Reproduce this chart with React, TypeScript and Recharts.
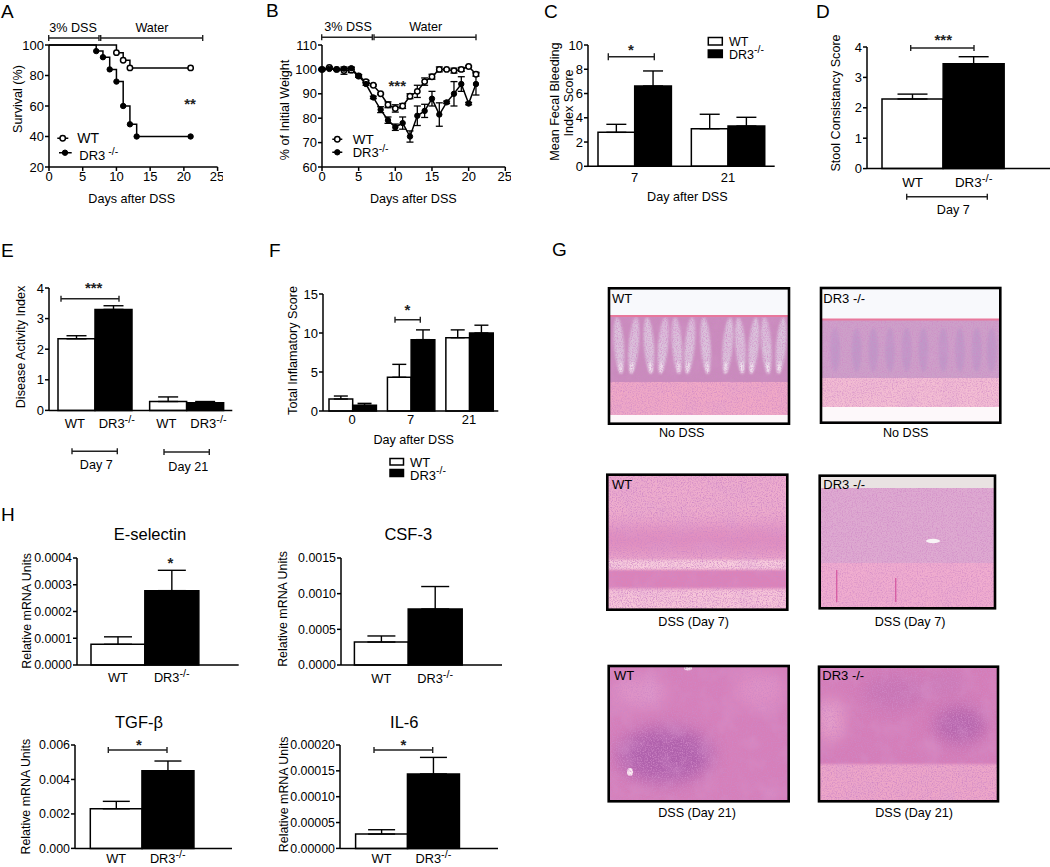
import React from "react";
import { Bar, BarChart, Cell, ErrorBar, Line, LineChart, XAxis, YAxis } from "recharts";

// A - survival
const survivalWt = [
    { day: 0, v: 100 }, { day: 10, v: 95 }, { day: 11, v: 90 }, { day: 12, v: 85 }, { day: 21, v: 85 },
];
const survivalDr3 = [
    { day: 0, v: 100 }, { day: 7, v: 96 }, { day: 8, v: 92 }, { day: 9, v: 84 }, { day: 10, v: 76 },
    { day: 11, v: 60 }, { day: 12, v: 48 }, { day: 13, v: 40 }, { day: 21, v: 40 },
];

// B - weight, one value per day
const weightDays = [0, 1, 2, 3, 4, 5, 6, 7, 8, 9, 10, 11, 12, 13, 14, 15, 16, 17, 18, 19, 20, 21];
const weightWt = [100, 100.8, 100, 99.5, 99.7, 97.3, 95, 93.5, 90, 85.5, 84, 85, 89, 91, 95, 97, 100, 100, 99.5, 100, 101.2, 98];
const weightWtErr = [0.5, 0.3, 0.3, 1.5, 1, 0.5, 0.5, 0.3, 0.3, 1.2, 1.5, 1, 1, 2.5, 1.5, 1, 1, 0.3, 1, 0.8, 0.3, 0.8];
const weightDr3 = [100, 100.2, 100, 100.3, 100.5, 97.3, 94, 88.5, 83.5, 79.2, 76.3, 78, 72.5, 81, 83, 88, 81.5, 86.5, 90, 94, 86, 94];
const weightDr3Err = [0.3, 0.2, 0.3, 0.3, 0.5, 0.5, 0.5, 0.5, 1.2, 1.3, 1.3, 2.5, 2.3, 4, 2.7, 3, 4.8, 0.5, 5, 3, 0.5, 4.5];

// grouped bars: C, E, F
const bleedingCats = ["7", "21"];
const bleedingWt = [2.8, 3.1];
const bleedingWtErr = [0.66, 1.19];
const bleedingDr3 = [6.62, 3.32];
const bleedingDr3Err = [1.24, 0.72];

const activityCats = ["Day 7", "Day 21"];
const activityWt = [2.34, 0.29];
const activityWtErr = [0.1, 0.15];
const activityDr3 = [3.3, 0.25];
const activityDr3Err = [0.12, 0.04];

const inflamCats = ["0", "7", "21"];
const inflamWt = [1.54, 4.32, 9.4];
const inflamWtErr = [0.38, 1.66, 1.0];
const inflamDr3 = [0.73, 9.15, 10.0];
const inflamDr3Err = [0.25, 1.25, 1.0];

// two bar panels: D, H
const genotypes = ["WT", "DR3"];
const stoolVals = [2.29, 3.45];
const stoolErr = [0.16, 0.23];
const eselVals = [0.0000773, 0.000278];
const eselErr = [0.000028, 0.000076];
const csfVals = [0.000322, 0.000785];
const csfErr = [0.000085, 0.000315];
const tgfVals = [0.0023, 0.00451];
const tgfErr = [0.00043, 0.00056];
const il6Vals = [0.0000277, 0.000144];
const il6Err = [0.0000084, 0.000032];

const FONT = "'Liberation Sans', Arial, sans-serif";
const AXIS = { stroke: "#000", strokeWidth: 1.5 };
const TICK = { fontSize: 13, fill: "#000", fontFamily: FONT };
const YW = 60;
const XH = 36;

function toRows(days: number[], vals: number[], errs: number[]) {
    return days.map((day, i) => ({ day, v: vals[i], err: [errs[i], errs[i]] }));
}

function groupRows(cats: string[], wt: number[], wtErr: number[], dr3: number[], dr3Err: number[]) {
    return cats.map((cat, i) => ({
        cat,
        wt: wt[i],
        wtErr: [0, wtErr[i]],
        dr3: dr3[i],
        dr3Err: [0, dr3Err[i]],
    }));
}

function pairRows(vals: number[], errs: number[]) {
    return genotypes.map((cat, i) => ({ cat, v: vals[i], err: [0, errs[i]] }));
}

// position a chart so its plot area lands on x0..x1 / yt..yb of the page
function place(x0: number, x1: number, yt: number, yb: number) {
    return {
        style: { position: "absolute" as const, left: x0 - YW, top: yt - 12 },
        width: YW + (x1 - x0) + 6,
        height: 12 + (yb - yt) + XH,
        margin: { top: 12, right: 6, left: 0, bottom: 0 },
    };
}

function GenoTick({ x, y, payload, fs = 12.8, dy = 9.5 }: any) {
    const isKo = payload.value === "DR3";
    return (
        <text x={x} y={y + dy} textAnchor="middle" fontSize={fs} fontFamily={FONT} fill="#000">
            <tspan>{payload.value}</tspan>
            {isKo && <tspan dy={-5} fontSize={fs - 2}>-/-</tspan>}
        </text>
    );
}

// group tick that prints WT and DR3-/- under each pair of bars
function PairTick({ x, y, dy = 9.5 }: any) {
    return (
        <g>
            <text x={x - 20} y={y + dy} textAnchor="middle" fontSize={13} fontFamily={FONT}>WT</text>
            <text x={x + 22} y={y + dy} textAnchor="middle" fontSize={13} fontFamily={FONT}>
                <tspan>DR3</tspan>
                <tspan dy={-5} fontSize={11}>-/-</tspan>
            </text>
        </g>
    );
}

function OpenDot({ cx, cy, payload }: any) {
    if (payload.day === 0) return <g key="skip" />;
    return <circle key={payload.day} cx={cx} cy={cy} r={2.7} fill="#fff" stroke="#000" strokeWidth={1.5} />;
}

function OpenDotAll({ cx, cy, payload }: any) {
    return <circle key={payload.day} cx={cx} cy={cy} r={2.7} fill="#fff" stroke="#000" strokeWidth={1.5} />;
}

function BlackDot({ cx, cy, payload }: any) {
    if (payload.day === 0) return <g key="skip" />;
    return <circle key={payload.day} cx={cx} cy={cy} r={2.7} fill="#000" stroke="#000" />;
}

function BlackDotAll({ cx, cy, payload }: any) {
    return <circle key={payload.day} cx={cx} cy={cy} r={2.7} fill="#000" stroke="#000" />;
}

const dayTicks = [0, 5, 10, 15, 20, 25];

function SurvivalChart() {
    return (
        <LineChart {...place(48.7, 217.3, 44.7, 166.7)}>
            <XAxis dataKey="day" type="number" domain={[0, 25]} ticks={dayTicks} height={XH} tick={TICK} axisLine={AXIS} tickLine={AXIS} tickSize={4} tickMargin={1} />
            <YAxis width={YW} type="number" domain={[20, 100]} ticks={[20, 40, 60, 80, 100]} tick={TICK} axisLine={AXIS} tickLine={AXIS} tickSize={4} tickMargin={1} />
            <Line data={survivalWt} dataKey="v" type="stepAfter" stroke="#000" strokeWidth={1.5} dot={<OpenDot />} isAnimationActive={false} />
            <Line data={survivalDr3} dataKey="v" type="stepAfter" stroke="#000" strokeWidth={1.5} dot={<BlackDot />} isAnimationActive={false} />
        </LineChart>
    );
}

function WeightChart() {
    return (
        <LineChart {...place(321.7, 505, 44.7, 166.7)}>
            <XAxis dataKey="day" type="number" domain={[0, 25]} ticks={dayTicks} height={XH} tick={TICK} axisLine={AXIS} tickLine={AXIS} tickSize={4} tickMargin={1} />
            <YAxis width={YW} type="number" domain={[60, 110]} ticks={[60, 70, 80, 90, 100, 110]} tick={TICK} axisLine={AXIS} tickLine={AXIS} tickSize={4} tickMargin={1} />
            <Line data={toRows(weightDays, weightWt, weightWtErr)} dataKey="v" stroke="#000" strokeWidth={1.5} dot={<OpenDotAll />} isAnimationActive={false}>
                <ErrorBar dataKey="err" direction="y" width={3.5} stroke="#000" strokeWidth={1.3} isAnimationActive={false} />
            </Line>
            <Line data={toRows(weightDays, weightDr3, weightDr3Err)} dataKey="v" stroke="#000" strokeWidth={1.5} dot={<BlackDotAll />} isAnimationActive={false}>
                <ErrorBar dataKey="err" direction="y" width={3.5} stroke="#000" strokeWidth={1.3} isAnimationActive={false} />
            </Line>
        </LineChart>
    );
}

function CatTick({ x, y, payload, dy }: any) {
    return <text x={x} y={y + dy} textAnchor="middle" fontSize={13} fontFamily={FONT} fill="#000">{payload.value}</text>;
}

function GroupChart({ box, rows, domain, ticks, barSize, capW, pairTick, tickDy = 8 }: any) {
    return (
        <BarChart {...place(box[0], box[1], box[2], box[3])} data={rows} barGap={0} barSize={barSize}>
            <XAxis
                dataKey="cat"
                height={XH}
                axisLine={AXIS}
                tickLine={false}
                interval={0}
                tick={pairTick ? <PairTick dy={tickDy} /> : <CatTick dy={tickDy} />}
            />
            <YAxis width={YW} type="number" domain={domain} ticks={ticks} interval={0} tick={TICK} axisLine={AXIS} tickLine={AXIS} tickSize={4} tickMargin={1} />
            <Bar dataKey="wt" fill="#fff" stroke="#000" strokeWidth={1.5} isAnimationActive={false}>
                <ErrorBar dataKey="wtErr" direction="y" width={capW} stroke="#000" strokeWidth={1.4} isAnimationActive={false} />
            </Bar>
            <Bar dataKey="dr3" fill="#000" stroke="#000" strokeWidth={1.5} isAnimationActive={false}>
                <ErrorBar dataKey="dr3Err" direction="y" width={capW} stroke="#000" strokeWidth={1.4} isAnimationActive={false} />
            </Bar>
        </BarChart>
    );
}

function PairChart({ box, vals, errs, domain, ticks, pad, digits, capW, fs = 12.4, tickDy = 9.5 }: any) {
    return (
        <BarChart {...place(box[0], box[1], box[2], box[3])} data={pairRows(vals, errs)} barCategoryGap={0}>
            <XAxis
                dataKey="cat"
                height={XH}
                axisLine={AXIS}
                tickLine={false}
                interval={0}
                padding={{ left: pad[0], right: pad[1] }}
                tick={<GenoTick fs={fs + 0.4} dy={tickDy} />}
            />
            <YAxis
                width={YW}
                type="number"
                domain={domain}
                ticks={ticks}
                interval={0}
                tick={{ fontSize: fs, fill: "#000", fontFamily: FONT }}
                tickFormatter={(v: number) => v.toFixed(digits)}
                axisLine={AXIS}
                tickLine={AXIS}
                tickSize={4}
                tickMargin={1}
            />
            <Bar dataKey="v" stroke="#000" strokeWidth={1.5} isAnimationActive={false}>
                {genotypes.map((g, i) => (
                    <Cell key={g} fill={i === 0 ? "#fff" : "#000"} />
                ))}
                <ErrorBar dataKey="err" direction="y" width={capW} stroke="#000" strokeWidth={1.4} isAnimationActive={false} />
            </Bar>
        </BarChart>
    );
}

// ---- annotation helpers, drawn on one page wide svg ----

function T({ x, y, s = 12.6, a = "start", children, w }: any) {
    return (
        <text x={x} y={y} fontSize={s} textAnchor={a} fontWeight={w} fontFamily={FONT} fill="#000">
            {children}
        </text>
    );
}

function V({ x, y, s = 12.6, children }: any) {
    return (
        <text transform={`translate(${x},${y}) rotate(-90)`} fontSize={s} textAnchor="middle" dominantBaseline="central" fontFamily={FONT} fill="#000">
            {children}
        </text>
    );
}

function Br({ x1, x2, y, c = 3 }: any) {
    return (
        <path d={`M${x1} ${y}H${x2}M${x1} ${y - c}V${y + c}M${x2} ${y - c}V${y + c}`} stroke="#222" strokeWidth={1.4} fill="none" />
    );
}

// y is the centre of the glyph, Liberation puts * high above the baseline
function Stars({ x, y, n }: any) {
    return (
        <text x={x} y={y + 7} fontSize={15} fontWeight="bold" textAnchor="middle" fontFamily={FONT} fill="#222">
            {"*".repeat(n)}
        </text>
    );
}

function Ko({ x, y, s = 13, gap = 0, supS = 10.5 }: any) {
    return (
        <text x={x} y={y} fontSize={s} fontFamily={FONT} fill="#000">
            <tspan>DR3</tspan>
            <tspan dx={gap} dy={-5.5} fontSize={supS}>-/-</tspan>
        </text>
    );
}

function Annotations() {
    return (
        <svg width={1050} height={867} style={{ position: "absolute", left: 0, top: 0, pointerEvents: "none" }}>
            {/* panel letters */}
            <T x={1} y={18} s={19}>A</T>
            <T x={266} y={17} s={19}>B</T>
            <T x={544} y={18} s={19}>C</T>
            <T x={816} y={18} s={19}>D</T>
            <T x={1} y={257} s={19}>E</T>
            <T x={269} y={257} s={19}>F</T>
            <T x={552} y={256} s={19}>G</T>
            <T x={1} y={521} s={19}>H</T>

            {/* A */}
            <T x={73} y={31.5} a="middle">3% DSS</T>
            <T x={152} y={31.5} a="middle">Water</T>
            <Br x1={48.7} x2={99} y={38} />
            <Br x1={100.7} x2={202.7} y={38} />
            <V x={17.5} y={99}>Survival (%)</V>
            <T x={131.7} y={203} a="middle">Days after DSS</T>
            <Stars x={190} y={101.7} n={2} />
            <path d="M57.3 138.3H68.3M59 152.7H71.7" stroke="#000" strokeWidth={1.5} />
            <circle cx={62.7} cy={138.3} r={2.7} fill="#fff" stroke="#000" strokeWidth={1.5} />
            <circle cx={65} cy={152.7} r={2.7} fill="#000" stroke="#000" />
            <T x={77.3} y={142.5} s={14}>WT</T>
            <Ko x={79.3} y={160} gap={3} />

            {/* B */}
            <T x={348} y={31} a="middle">3% DSS</T>
            <T x={425.7} y={31} a="middle">Water</T>
            <Br x1={321.7} x2={372.3} y={37.3} />
            <Br x1={374} x2={476} y={37.3} />
            <V x={285} y={110}>% of Initial Weight</V>
            <T x={413.3} y={203} a="middle">Days after DSS</T>
            <Stars x={397.3} y={84} n={3} />
            <path d="M332.3 139.3H342.3M332.3 152.3H342.3" stroke="#000" strokeWidth={1.5} />
            <circle cx={337.3} cy={139.3} r={2.7} fill="#fff" stroke="#000" strokeWidth={1.5} />
            <circle cx={337.3} cy={152.3} r={2.7} fill="#000" stroke="#000" />
            <T x={352.7} y={143.5} s={13.5}>WT</T>
            <Ko x={352.7} y={157} />

            {/* C */}
            <V x={555} y={101.7}>Mean Fecal Bleeding</V>
            <V x={569.3} y={103}>Index Score</V>
            <Br x1={608.3} x2={654.3} y={56.7} c={3.5} />
            <Stars x={631} y={47.7} n={1} />
            <rect x={708.3} y={37.5} width={14} height={7.5} fill="#fff" stroke="#000" strokeWidth={1.5} />
            <rect x={708.3} y={50} width={14} height={7.5} fill="#000" stroke="#000" strokeWidth={1.5} />
            <T x={729} y={46} s={12.5}>WT</T>
            <Ko x={729} y={58.5} s={12.5} />
            <T x={687.3} y={201} a="middle">Day after DSS</T>

            {/* D */}
            <V x={836} y={103}>Stool Consistancy Score</V>
            <Br x1={910.7} x2={974} y={48} />
            <Stars x={943.3} y={38.3} n={3} />
            <Br x1={906.7} x2={987.3} y={196.7} />
            <T x={953.3} y={214.3} a="middle">Day 7</T>

            {/* E */}
            <V x={20.7} y={347}>Disease Activity Index</V>
            <Br x1={61} x2={119} y={298.7} />
            <Stars x={93.7} y={285.7} n={3} />
            <Br x1={72} x2={117.3} y={451.3} />
            <Br x1={164} x2={209.3} y={452} />
            <T x={96.3} y={469.3} a="middle">Day 7</T>
            <T x={188.3} y={471} a="middle">Day 21</T>

            {/* F */}
            <V x={292.7} y={350.5}>Total Inflamatory Score</V>
            <Br x1={395} x2={420.3} y={319.7} />
            <Stars x={407.3} y={307.7} n={1} />
            <T x={413.7} y={444.3} a="middle">Day after DSS</T>
            <rect x={390} y={458.5} width={13.5} height={6.5} fill="#fff" stroke="#000" strokeWidth={1.5} />
            <rect x={390} y={469.5} width={13.5} height={7} fill="#000" stroke="#000" strokeWidth={1.5} />
            <T x={410} y={466.5} s={13}>WT</T>
            <Ko x={410} y={479.5} />

            {/* H */}
            <T x={150} y={540.3} s={16.5} a="middle">E-selectin</T>
            <T x={408.3} y={540.3} s={16.5} a="middle">CSF-3</T>
            <T x={139} y={728.3} s={16.5} a="middle">TGF-β</T>
            <T x={404.3} y={728.3} s={16.5} a="middle">IL-6</T>
            <V x={26.7} y={610.8} s={12.4}>Relative mRNA Units</V>
            <V x={283.3} y={609} s={12.4}>Relative mRNA Units</V>
            <V x={26} y={796.7} s={12.4}>Relative mRNA Units</V>
            <V x={284} y={794.3} s={12.4}>Relative mRNA Units</V>
            <Stars x={170.3} y={561.3} n={1} />
            <Br x1={108.3} x2={167} y={750} />
            <Stars x={139} y={743.3} n={1} />
            <Br x1={374} x2={432.7} y={750} />
            <Stars x={403.3} y={743.3} n={1} />
        </svg>
    );
}

// ---- histology panel G, only a painted impression of the micrographs ----

const cryptsWt = [88, 130, 178, 218, 262, 298, 348, 412, 452, 490, 530, 572];
const cryptsKo = [735, 800, 850, 900, 950, 1000, 1060, 1110, 1160, 1205];

function Tissue({ x, y, w, h, base, speck = 1, clearTo, children, id }: any) {
    return (
        <g>
            <clipPath id={id}>
                <rect x={x} y={y} width={w} height={h} />
            </clipPath>
            <g clipPath={`url(#${id})`}>
                <rect x={x} y={y} width={w} height={h} fill={base} />
                {children}
                <rect x={x} y={y} width={w} height={h} filter="url(#mottle)" opacity={0.3 * speck} />
                <rect x={x} y={y} width={w} height={h} filter="url(#speck)" opacity={speck} />
                {clearTo}
            </g>
            <rect x={x} y={y} width={w} height={h} fill="none" stroke="#000" strokeWidth={2.6} />
        </g>
    );
}

function Histology() {
    return (
        <svg width={1050} height={867} style={{ position: "absolute", left: 0, top: 0, pointerEvents: "none" }}>
            <defs>
                <filter id="speck" x="0" y="0" width="100%" height="100%">
                    <feTurbulence type="fractalNoise" baseFrequency="0.8" numOctaves="2" seed="4" />
                    <feColorMatrix values="0 0 0 0 0.62 0 0 0 0 0.24 0 0 0 0 0.56 0 0 0 2.4 -1.05" />
                </filter>
                <filter id="mottle" x="0" y="0" width="100%" height="100%">
                    <feTurbulence type="fractalNoise" baseFrequency="0.05" numOctaves="3" seed="9" />
                    <feColorMatrix values="0 0 0 0 0.72 0 0 0 0 0.36 0 0 0 0 0.66 0 0 0 2.2 -0.95" />
                </filter>
                <filter id="soft" x="-60%" y="-60%" width="220%" height="220%">
                    <feGaussianBlur stdDeviation="1" />
                </filter>
                <filter id="softer" x="-60%" y="-60%" width="220%" height="220%">
                    <feGaussianBlur stdDeviation="8" />
                </filter>
            </defs>

            <Tissue
                id="g1" x={609} y={288.3} w={180} h={135.4} base="#c98cbc" speck={0.8}
                clearTo={<g>
                    <rect x={609} y={288} width={180} height={27.5} fill="#f8f9fc" />
                    <rect x={609} y={315} width={180} height={2} fill="#e8789c" />
                    <rect x={609} y={415} width={180} height={9} fill="#fdf7fa" />
                </g>}
            >
                {cryptsWt.map((c, i) => (
                    <g key={c} transform={`rotate(${i % 2 ? 5 : -4} ${590 + c / 3} 350)`}>
                        <ellipse cx={590 + c / 3} cy={345} rx={5} ry={28} fill="#ddc8df" opacity={0.9} filter="url(#soft)" />
                        <ellipse cx={590 + c / 3} cy={368} rx={1.6} ry={6} fill="#f6eef4" filter="url(#soft)" />
                    </g>
                ))}
                <rect x={609} y={382} width={180} height={34} fill="#f0a9c6" />
            </Tissue>

            <Tissue
                id="g2" x={821} y={288} w={179.3} h={134.7} base="#cda0c9" speck={0.7}
                clearTo={<g>
                    <rect x={821} y={288} width={180} height={31} fill="#f8f9fc" />
                    <rect x={821} y={318.5} width={180} height={2} fill="#e8789c" />
                    <rect x={821} y={407} width={180} height={16} fill="#fdf8fa" />
                </g>}
            >
                {cryptsKo.map((c) => (
                    <ellipse key={c} cx={590 + c / 3} cy={350} rx={5} ry={22} fill="#b592c8" opacity={0.5} filter="url(#soft)" />
                ))}
                <rect x={821} y={378} width={180} height={29} fill="#f3bdd3" />
            </Tissue>

            <Tissue id="g3" x={607.3} y={474.7} w={180} h={135} base="#eeadcd">
                <rect x={560} y={525} width={280} height={30} fill="#dd86bb" opacity={0.8} filter="url(#softer)" />
                <rect x={600} y={590} width={200} height={22} fill="#f7c6d9" filter="url(#soft)" />
                <rect x={600} y={570} width={200} height={18} fill="#dc82b8" filter="url(#soft)" />
                <rect x={600} y={560} width={200} height={9} fill="#f8cddd" filter="url(#soft)" />
            </Tissue>

            <Tissue
                id="g4" x={819.7} y={475.7} w={175.3} h={132.6} base="#deaad1" speck={0.75}
                clearTo={<g>
                    <rect x={819} y={475} width={177} height={13} fill="#e9e2e2" />
                    <ellipse cx={933} cy={541} rx={7} ry={2.2} fill="#f8f3f6" />
                    <rect x={836} y={570} width={1.4} height={32} fill="#d65fa5" />
                    <rect x={895} y={578} width={1.4} height={24} fill="#d65fa5" />
                </g>}
            >
                <rect x={819} y={563} width={177} height={46} fill="#f0adcf" />
            </Tissue>

            <Tissue id="g5" x={608.7} y={666} w={180} h={135.3} base="#d67fba">
                <ellipse cx={665} cy={755} rx={48} ry={28} fill="#a65aa9" opacity={0.8} filter="url(#softer)" />
                <ellipse cx={640} cy={692} rx={28} ry={16} fill="#e09acb" opacity={0.8} filter="url(#softer)" />
                <ellipse cx={760} cy={690} rx={26} ry={18} fill="#e195c8" opacity={0.8} filter="url(#softer)" />
                <ellipse cx={688} cy={668} rx={4} ry={2.5} fill="#fbeef4" />
                <ellipse cx={630} cy={772} rx={3} ry={4} fill="#fbeef4" />
            </Tissue>

            <Tissue id="g6" x={819} y={666.7} w={179} h={134.6} base="#d57db8">
                <rect x={810} y={764} width={200} height={40} fill="#eda6c8" filter="url(#soft)" />
                <ellipse cx={960} cy={725} rx={26} ry={18} fill="#a75ba8" opacity={0.7} filter="url(#softer)" />
                <ellipse cx={895} cy={692} rx={32} ry={18} fill="#c272b3" opacity={0.7} filter="url(#softer)" />
                <ellipse cx={945} cy={684} rx={22} ry={14} fill="#c67ab8" opacity={0.6} filter="url(#softer)" />
                <ellipse cx={830} cy={720} rx={14} ry={22} fill="#eba9cc" opacity={0.8} filter="url(#softer)" />
            </Tissue>

            <T x={612} y={303.3} s={13}>WT</T>
            <T x={823.3} y={303.3} s={13}>DR3 -/-</T>
            <T x={612} y={489} s={13}>WT</T>
            <T x={823.3} y={489} s={13}>DR3 -/-</T>
            <T x={614} y={680} s={13}>WT</T>
            <T x={822.3} y={680} s={13}>DR3 -/-</T>

            <T x={681.7} y={437} a="middle">No DSS</T>
            <T x={905.7} y={437} a="middle">No DSS</T>
            <T x={693.7} y={625.7} a="middle">DSS (Day 7)</T>
            <T x={910} y={625.7} a="middle">DSS (Day 7)</T>
            <T x={697} y={816.7} a="middle">DSS (Day 21)</T>
            <T x={914} y={816.7} a="middle">DSS (Day 21)</T>
        </svg>
    );
}

export default function App() {
    return (
        <div style={{ position: "absolute", left: 0, top: 0, width: 1050, height: 867, background: "#fff", overflow: "hidden", fontFamily: FONT }}>
            <SurvivalChart />
            <WeightChart />
            <GroupChart
                box={[588.3, 775, 44.7, 166]}
                rows={groupRows(bleedingCats, bleedingWt, bleedingWtErr, bleedingDr3, bleedingDr3Err)}
                domain={[0, 10]}
                ticks={[0, 2, 4, 6, 8, 10]}
                barSize={36.7}
                capW={10}
                tickDy={8}
            />
            <PairChart box={[866.7, 1050, 46.7, 168.3]} vals={stoolVals} errs={stoolErr} domain={[0, 4]} ticks={[0, 1, 2, 3, 4]} pad={[15, 46]} digits={0} capW={15} fs={13} tickDy={10} />
            <GroupChart
                box={[49, 232.3, 288.3, 410.7]}
                rows={groupRows(activityCats, activityWt, activityWtErr, activityDr3, activityDr3Err)}
                domain={[0, 4]}
                ticks={[0, 1, 2, 3, 4]}
                barSize={37}
                capW={10}
                pairTick
                tickDy={9.5}
            />
            <GroupChart
                box={[322.7, 498, 294, 411]}
                rows={groupRows(inflamCats, inflamWt, inflamWtErr, inflamDr3, inflamDr3Err)}
                domain={[0, 15]}
                ticks={[0, 5, 10, 15]}
                barSize={23.7}
                capW={7}
                tickDy={5}
            />
            <PairChart box={[77, 238.7, 558.3, 665.3]} vals={eselVals} errs={eselErr} domain={[0, 0.0004]} ticks={[0, 0.0001, 0.0002, 0.0003, 0.0004]} pad={[14, 40]} digits={4} capW={14} />
            <PairChart box={[341.3, 502.3, 558.3, 665.3]} vals={csfVals} errs={csfErr} domain={[0, 0.0015]} ticks={[0, 0.0005, 0.001, 0.0015]} pad={[13.4, 40]} digits={4} capW={14} />
            <PairChart box={[74.7, 231.7, 745.3, 848.7]} vals={tgfVals} errs={tgfErr} domain={[0, 0.006]} ticks={[0, 0.002, 0.004, 0.006]} pad={[15.3, 38.4]} digits={3} capW={13.5} tickDy={7} />
            <PairChart box={[339.7, 497.7, 745.3, 848.7]} vals={il6Vals} errs={il6Err} domain={[0, 0.0002]} ticks={[0, 0.00005, 0.0001, 0.00015, 0.0002]} pad={[15.6, 38.7]} digits={5} capW={13.5} tickDy={7} />
            <Histology />
            <Annotations />
        </div>
    );
}
